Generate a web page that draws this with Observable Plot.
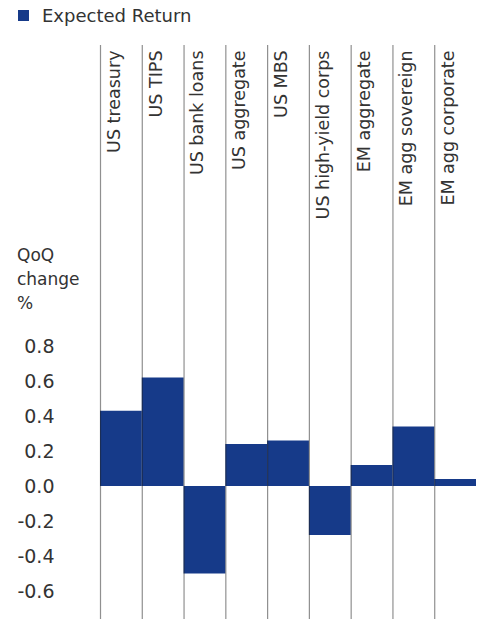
<!DOCTYPE html>
<html>
<head>
<meta charset="utf-8">
<script src="https://cdn.jsdelivr.net/npm/d3@7"></script>
<script src="https://cdn.jsdelivr.net/npm/@observablehq/plot@0.6"></script>
<style>
  body { margin: 0; background: #fff; }
  #wrap { position: relative; width: 485px; height: 619px; font-family: "DejaVu Sans", sans-serif; color: #333; }
  #legend { position: absolute; left: 18px; top: 1px; height: 28px; display: flex; align-items: center; font-size: 18px; }
  #legend .sw { width: 11px; height: 11px; background: #163a89; margin-right: 13px; }
  #ylabel { position: absolute; left: 17px; top: 243px; font-size: 17px; line-height: 24px; }
  #chart { position: absolute; left: 0; top: 30px; }
</style>
</head>
<body>
<div id="wrap">
  <div id="legend"><div class="sw"></div><span>Expected Return</span></div>
  <div id="ylabel">QoQ<br>change<br>%</div>
  <div id="chart"></div>
</div>
<script>
const categories = ["US treasury", "US TIPS", "US bank loans", "US aggregate", "US MBS", "US high-yield corps", "EM aggregate", "EM agg sovereign", "EM agg corporate"];
const expectedReturn = [0.43, 0.62, -0.50, 0.24, 0.26, -0.28, 0.12, 0.34, 0.04];
const yTicks = [-0.6, -0.4, -0.2, 0.0, 0.2, 0.4, 0.6, 0.8];

const data = categories.map((c, i) => ({category: c, index: i, value: expectedReturn[i]}));
const blue = "#163a89";

const plot = Plot.plot({
  width: 485,
  height: 589,
  marginLeft: 100,
  marginRight: 9,
  marginTop: 15,
  marginBottom: 0,
  style: {fontSize: "18px", fontFamily: "'DejaVu Sans', sans-serif", color: "#333", background: "transparent"},
  x: {domain: [0, categories.length], axis: null},
  y: {domain: [-0.76, 2.52], axis: null},
  marks: [
    Plot.rectY(data, {x1: "index", x2: d => d.index + 1, y: "value", fill: blue}),
    Plot.ruleX(data, {x: "index", stroke: "#222", strokeOpacity: 0.5, strokeWidth: 1.2}),
    Plot.text(data, {x: d => d.index + 0.5, text: "category", frameAnchor: "top", rotate: -90, textAnchor: "end", dx: -14, dy: 5, fill: "#333", fontSize: 17.5}),
    Plot.axisY({ticks: yTicks, tickSize: 0, tickPadding: 46, tickFormat: d => d.toFixed(1), fontSize: 19, fill: "#333", label: null})
  ]
});
document.getElementById("chart").appendChild(plot);
</script>
</body>
</html>
